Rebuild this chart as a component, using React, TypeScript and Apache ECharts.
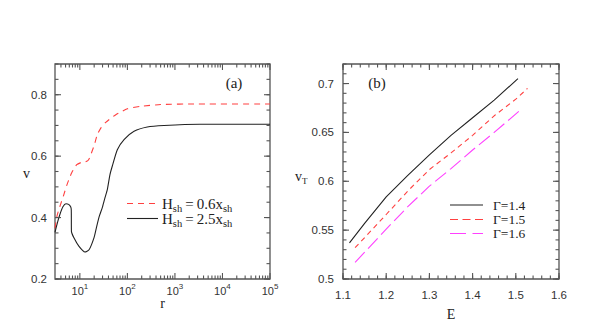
import React, { useEffect, useRef } from 'react';
import * as echarts from 'echarts';

// ---- Panel (a) data: r (log axis) vs v ----
const redR = [3, 3.3, 3.8, 4.5, 5.3, 6.7, 8.6, 10.9, 14, 15.5, 17, 20, 23.3, 28, 35, 57, 100, 190, 500, 3000, 100000];
const redV = [0.365, 0.405, 0.436, 0.47, 0.505, 0.545, 0.572, 0.58, 0.583, 0.59, 0.605, 0.635, 0.67, 0.693, 0.71, 0.735, 0.754, 0.762, 0.768, 0.77, 0.77];
const blackR = [3, 3.4, 3.8, 4.4, 5.1, 5.8, 6.4, 6.6, 6.65, 7.5, 9.6, 12.8, 15.6, 19.8, 22.5, 25.5, 30, 33.8, 37.8, 43, 48, 61.4, 85, 138, 262, 590, 3365, 100000];
const blackV = [0.352, 0.385, 0.41, 0.435, 0.445, 0.443, 0.435, 0.425, 0.355, 0.334, 0.306, 0.288, 0.295, 0.334, 0.37, 0.403, 0.435, 0.465, 0.491, 0.54, 0.567, 0.621, 0.654, 0.681, 0.695, 0.7, 0.704, 0.704];

// ---- Panel (b) data: E vs v_T ----
const e14 = [1.115, 1.15, 1.2, 1.25, 1.3, 1.35, 1.4, 1.45, 1.505];
const v14 = [0.537, 0.557, 0.584, 0.606, 0.627, 0.647, 0.665, 0.683, 0.705];
const e15 = [1.128, 1.2, 1.25, 1.3, 1.35, 1.4, 1.45, 1.5, 1.527];
const v15 = [0.532, 0.566, 0.59, 0.612, 0.629, 0.647, 0.667, 0.684, 0.695];
const e16 = [1.128, 1.2, 1.25, 1.3, 1.35, 1.4, 1.45, 1.511];
const v16 = [0.517, 0.551, 0.574, 0.595, 0.613, 0.632, 0.65, 0.673];

// ---- Tick labels ----
const aDecades = [1, 2, 3, 4, 5];
const aYTicks = [0.2, 0.4, 0.6, 0.8];
const bXTicks = [1.1, 1.2, 1.3, 1.4, 1.5, 1.6];
const bYTicks = [0.5, 0.55, 0.6, 0.65, 0.7];

const SANS = '"Liberation Sans", Arial, sans-serif';
const SERIF = '"Liberation Serif", "Times New Roman", serif';
const FRAME = '#555';
const TXT = '#333';

function range(a: number, b: number, step: number): number[] {
  const out: number[] = [];
  const n = Math.round((b - a) / step);
  for (let i = 0; i <= n; i++) out.push(Math.round((a + i * step) * 10000) / 10000);
  return out;
}

function logMinor(): number[] {
  const out: number[] = [];
  for (let d = 0; d < 5; d++) {
    for (let m = 2; m <= 9; m++) {
      const r = m * Math.pow(10, d);
      if (r > 3 && r < 100000) out.push(Math.log10(r));
    }
  }
  return out;
}

type Tick = { v: number; y: boolean; len: number };

// custom series drawing inward ticks on all four sides of a grid
function tickSeries(gi: number, xMin: number, xMax: number, yMin: number, yMax: number,
  xMaj: number[], xMn: number[], yMaj: number[], yMn: number[]) {
  const ticks: Tick[] = [
    ...xMaj.map((v) => ({ v, y: false, len: 6 })),
    ...xMn.map((v) => ({ v, y: false, len: 3.5 })),
    ...yMaj.map((v) => ({ v, y: true, len: 6 })),
    ...yMn.map((v) => ({ v, y: true, len: 3.5 })),
  ];
  const xMid = (xMin + xMax) / 2;
  const yMid = (yMin + yMax) / 2;
  return {
    type: 'custom', coordinateSystem: 'cartesian2d', xAxisIndex: gi, yAxisIndex: gi, silent: true, z: 5,
    data: ticks.map((t) => (t.y ? [xMid, t.v] : [t.v, yMid])),
    renderItem: (params: any, api: any) => {
      const t = ticks[params.dataIndex];
      const st = { stroke: FRAME, lineWidth: 1.1 };
      if (!t.y) {
        const b = api.coord([t.v, yMin]);
        const tp = api.coord([t.v, yMax]);
        return {
          type: 'group', children: [
            { type: 'line', shape: { x1: b[0], y1: b[1], x2: b[0], y2: b[1] - t.len }, style: st },
            { type: 'line', shape: { x1: tp[0], y1: tp[1], x2: tp[0], y2: tp[1] + t.len }, style: st },
          ],
        };
      }
      const l = api.coord([xMin, t.v]);
      const r = api.coord([xMax, t.v]);
      return {
        type: 'group', children: [
          { type: 'line', shape: { x1: l[0], y1: l[1], x2: l[0] + t.len, y2: l[1] }, style: st },
          { type: 'line', shape: { x1: r[0], y1: r[1], x2: r[0] - t.len, y2: r[1] }, style: st },
        ],
      };
    },
  };
}

export default function App() {
  const ref = useRef<HTMLDivElement>(null);
  useEffect(() => {
    if (!ref.current) return;
    const chart = echarts.init(ref.current, undefined, { renderer: 'svg' });
    const aMin = Math.log10(3);
    const hidden = { axisLine: { show: false }, axisTick: { show: false }, splitLine: { show: false } };

    const xAxis = [
      {
        type: 'value', gridIndex: 0, min: aMin, max: 5, ...hidden,
        axisLabel: {
          customValues: aDecades, margin: 3, fontSize: 11, fontFamily: SANS, color: TXT, lineHeight: 18,
          formatter: (v: number) => '10{sup|' + Math.round(v) + '}',
          rich: { sup: { fontSize: 8, fontFamily: SANS, color: TXT, verticalAlign: 'top', lineHeight: 8 } },
        },
      },
      {
        type: 'value', gridIndex: 1, min: 1.1, max: 1.6, ...hidden,
        axisLabel: {
          customValues: bXTicks, margin: 10, fontSize: 11.5, fontFamily: SANS, color: TXT,
          formatter: (v: number) => v.toFixed(1),
        },
      },
    ];
    const yAxis = [
      {
        type: 'value', gridIndex: 0, min: 0.2, max: 0.9, ...hidden,
        axisLabel: {
          customValues: aYTicks, margin: 8, fontSize: 11.5, fontFamily: SANS, color: TXT,
          formatter: (v: number) => v.toFixed(1),
        },
      },
      {
        type: 'value', gridIndex: 1, min: 0.5, max: 0.72, ...hidden,
        axisLabel: {
          customValues: bYTicks, margin: 9, fontSize: 11.5, fontFamily: SANS, color: TXT,
          formatter: (v: number) => String(Math.round(v * 100) / 100),
        },
      },
    ];

    const line = (name: string, xs: number[], ys: number[], gi: number, color: string, type: any, log: boolean) => ({
      name, type: 'line', xAxisIndex: gi, yAxisIndex: gi, showSymbol: false, symbol: 'none',
      smooth: log ? 0.2 : false,
      data: xs.map((x, i) => [log ? Math.log10(x) : x, ys[i]]),
      lineStyle: { color, width: 1.1, type },
      silent: true,
    });

    const rich = {
      s: { fontSize: 10.5, fontFamily: SERIF, fill: '#222', verticalAlign: 'bottom', lineHeight: 10 },
      e: { fontSize: 15, fontFamily: SERIF, fill: '#222', padding: [0, 3, 0, 3] },
    };
    const legText = (x: number, y: number, text: string) => ({
      type: 'text', x, y,
      style: { text, fontSize: 15, fontFamily: SERIF, fill: '#222', verticalAlign: 'middle', lineHeight: 20, rich },
    });
    const gText = (x: number, y: number, text: string) => ({
      type: 'text', x, y,
      style: { text, fontSize: 13.5, fontFamily: SERIF, fill: '#222', verticalAlign: 'middle', lineHeight: 12 },
    });
    const legLine = (x1: number, x2: number, y: number, color: string, dash: any) => ({
      type: 'line', shape: { x1, y1: y, x2, y2: y },
      style: { stroke: color, lineWidth: 1.1, lineDash: dash },
    });
    const label = (x: number, y: number, text: string, align = 'center', size = 14) => ({
      type: 'text', x, y,
      style: { text, fontSize: size, fontFamily: SERIF, fill: '#222', align, verticalAlign: 'middle' },
    });
    const gridStyle = { show: true, borderColor: FRAME, borderWidth: 1.3, backgroundColor: 'transparent' };

    chart.setOption({
      animation: false,
      backgroundColor: '#fff',
      grid: [
        { left: 55, top: 64, width: 215, height: 215, ...gridStyle },
        { left: 343, top: 64, width: 216, height: 215, ...gridStyle },
      ],
      xAxis,
      yAxis,
      series: [
        line('H_sh=0.6x_sh', redR, redV, 0, '#ff4040', [6, 5], true),
        line('H_sh=2.5x_sh', blackR, blackV, 0, '#222', 'solid', true),
        line('Γ=1.4', e14, v14, 1, '#222', 'solid', false),
        line('Γ=1.5', e15, v15, 1, '#ff4040', [5, 4], false),
        line('Γ=1.6', e16, v16, 1, '#ff40ff', [14, 5], false),
        tickSeries(0, aMin, 5, 0.2, 0.9, aDecades, logMinor(), aYTicks, range(0.2, 0.9, 0.05)),
        tickSeries(1, 1.1, 1.6, 0.5, 0.72, bXTicks, range(1.1, 1.6, 0.02), bYTicks, range(0.5, 0.72, 0.01)),
      ],
      graphic: [
        label(234, 83, '(a)', 'center', 15),
        label(377, 83, '(b)', 'center', 15),
        label(26.5, 173, 'v'),
        label(162.5, 303.5, 'r'),
        label(451, 314, 'E'),
        { type: 'text', x: 295, y: 176, style: { text: 'v{s|T}', fontSize: 14, fontFamily: SERIF, fill: '#222', verticalAlign: 'middle', lineHeight: 18, rich: { s: { fontSize: 9, fontFamily: SERIF, fill: '#222', verticalAlign: 'bottom', lineHeight: 9 } } } },
        legLine(127, 158, 203.5, '#ff4040', [6, 5]),
        legText(162, 203.5, 'H{s|sh}{e|=}0.6x{s|sh}'),
        legLine(127, 158, 218.5, '#222', null),
        legText(162, 218.5, 'H{s|sh}{e|=}2.5x{s|sh}'),
        legLine(450, 483, 205, '#222', null),
        gText(493, 205, 'Γ=1.4'),
        legLine(450, 483, 219.5, '#ff4040', [8, 4.5]),
        gText(493, 219.5, 'Γ=1.5'),
        legLine(450, 483, 233.5, '#ff40ff', [16, 6.5]),
        gText(493, 233.5, 'Γ=1.6'),
      ],
    } as any);
    return () => chart.dispose();
  }, []);
  return <div ref={ref} style={{ position: 'fixed', left: 0, top: 0, width: 589, height: 334, background: '#fff' }} />;
}
